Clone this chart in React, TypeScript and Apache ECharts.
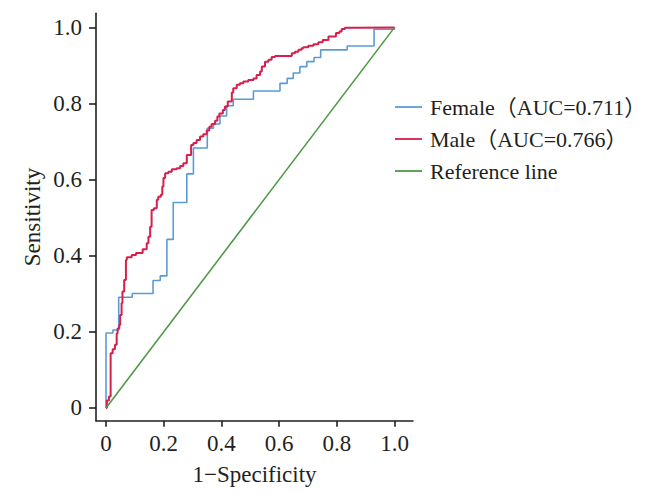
import React, { useEffect, useRef } from "react";
import * as echarts from "echarts";

const xTicks = [0, 0.2, 0.4, 0.6, 0.8, 1.0];
const yTicks = [0, 0.2, 0.4, 0.6, 0.8, 1.0];

const seriesNames = ["Female（AUC=0.711）", "Male（AUC=0.766）", "Reference line"];

// Female ROC corner points (1-specificity, sensitivity)
const femaleFpr = [
  0, 0, 0.024, 0.044, 0.091, 0.163, 0.188, 0.211, 0.233, 0.28, 0.303, 0.351,
  0.372, 0.395, 0.418, 0.441, 0.511, 0.603, 0.628, 0.649, 0.672, 0.696, 0.721,
  0.744, 0.836, 0.929, 1.0,
];
const femaleTpr = [
  0, 0.197, 0.205, 0.291, 0.301, 0.335, 0.347, 0.443, 0.54, 0.615, 0.683, 0.735,
  0.746, 0.767, 0.794, 0.811, 0.833, 0.853, 0.866, 0.88, 0.897, 0.91, 0.921,
  0.941, 0.951, 0.995, 1.0,
];

// Male ROC corner points
const maleFpr = [
  0, 0.003, 0.01, 0.016, 0.023, 0.031, 0.037, 0.04, 0.046, 0.049, 0.054, 0.057,
  0.063, 0.069, 0.072, 0.089, 0.104, 0.127, 0.141, 0.147, 0.153, 0.158, 0.166,
  0.176, 0.181, 0.19, 0.195, 0.199, 0.205, 0.216, 0.228, 0.245, 0.257, 0.268,
  0.28, 0.295, 0.303, 0.314, 0.326, 0.337, 0.349, 0.358, 0.366, 0.378, 0.386,
  0.393, 0.405, 0.412, 0.422, 0.436, 0.441, 0.453, 0.464, 0.476, 0.493, 0.511,
  0.522, 0.534, 0.54, 0.551, 0.563, 0.574, 0.586, 0.644, 0.655, 0.667, 0.678,
  0.684, 0.701, 0.719, 0.736, 0.751, 0.771, 0.797, 0.809, 0.817, 0.828, 0.875,
  1.0,
];
const maleTpr = [
  0, 0.02, 0.03, 0.144, 0.154, 0.166, 0.196, 0.209, 0.218, 0.244, 0.276, 0.306,
  0.336, 0.389, 0.396, 0.402, 0.407, 0.417, 0.433, 0.45, 0.476, 0.52, 0.525,
  0.547, 0.555, 0.56, 0.582, 0.604, 0.617, 0.621, 0.627, 0.63, 0.636, 0.643,
  0.665, 0.691, 0.696, 0.704, 0.713, 0.719, 0.729, 0.739, 0.746, 0.755, 0.766,
  0.774, 0.783, 0.792, 0.805, 0.829, 0.84, 0.849, 0.853, 0.858, 0.862, 0.866,
  0.875, 0.884, 0.897, 0.91, 0.915, 0.922, 0.925, 0.932, 0.936, 0.941, 0.945,
  0.948, 0.952, 0.956, 0.961, 0.967, 0.976, 0.985, 0.989, 0.996, 0.999, 1.0,
  1.0,
];

const refX = [0, 1];
const refY = [0, 1];

const colors = ["#5b9bd5", "#d81e4a", "#4f9a45"];

function toStep(xs: number[], ys: number[]): number[][] {
  const pts: number[][] = [[xs[0], ys[0]]];
  for (let i = 1; i < xs.length; i++) {
    pts.push([xs[i], ys[i - 1]]);
    pts.push([xs[i], ys[i]]);
  }
  return pts;
}

const FONT = "'Liberation Serif', 'Noto Sans CJK SC', serif";
const TEXT = "#231f20";

export default function App() {
  const ref = useRef<HTMLDivElement>(null);
  useEffect(() => {
    if (!ref.current) return;
    const chart = echarts.init(ref.current, undefined, { renderer: "svg" });
    const fmt = (v: number) => (v === 0 ? "0" : v.toFixed(1));
    const axisCommon = {
      type: "value" as const,
      splitLine: { show: false },
      axisLine: { show: true, onZero: false, lineStyle: { color: TEXT, width: 1.6 } },
      nameLocation: "middle" as const,
      nameTextStyle: { fontFamily: FONT, fontSize: 23, color: TEXT },
    };
    chart.setOption({
      animation: false,
      grid: {
        left: 96,
        top: 13.3,
        width: 317,
        height: 407.4,
        containLabel: false,
        outerBoundsMode: "none",
      },
      xAxis: {
        ...axisCommon,
        min: -0.0347,
        max: 1.064,
        name: "1−Specificity",
        nameGap: 42,
        axisTick: {
          show: true,
          customValues: xTicks,
          length: 6,
          lineStyle: { color: TEXT, width: 1.6 },
        },
        axisLabel: {
          customValues: xTicks,
          formatter: fmt,
          margin: 11,
          fontFamily: FONT,
          fontSize: 23,
          color: TEXT,
        },
      },
      yAxis: {
        ...axisCommon,
        min: -0.0334,
        max: 1.037,
        name: "Sensitivity",
        nameGap: 52,
        axisTick: {
          show: true,
          customValues: yTicks,
          length: 7,
          lineStyle: { color: TEXT, width: 1.6 },
        },
        axisLabel: {
          customValues: yTicks,
          formatter: fmt,
          margin: 14,
          fontFamily: FONT,
          fontSize: 23,
          color: TEXT,
        },
      },
      legend: {
        orient: "vertical",
        left: 395,
        top: 96,
        padding: 0,
        icon: "rect",
        itemWidth: 27,
        itemHeight: 1.8,
        itemGap: 10,
        data: seriesNames,
        textStyle: { fontFamily: FONT, fontSize: 22, color: TEXT, padding: [0, 0, 0, 3] },
      },
      series: [
        {
          name: seriesNames[0],
          type: "line",
          data: toStep(femaleFpr, femaleTpr),
          symbol: "none",
          showSymbol: false,
          lineStyle: { color: colors[0], width: 1.6 },
          itemStyle: { color: colors[0] },
          silent: true,
        },
        {
          name: seriesNames[1],
          type: "line",
          data: toStep(maleFpr, maleTpr),
          symbol: "none",
          showSymbol: false,
          lineStyle: { color: colors[1], width: 2 },
          itemStyle: { color: colors[1] },
          silent: true,
        },
        {
          name: seriesNames[2],
          type: "line",
          data: refX.map((x, i) => [x, refY[i]]),
          symbol: "none",
          showSymbol: false,
          lineStyle: { color: colors[2], width: 1.6 },
          itemStyle: { color: colors[2] },
          silent: true,
        },
      ],
    });
    return () => chart.dispose();
  }, []);
  return (
    <div
      ref={ref}
      style={{ position: "absolute", left: 0, top: 0, width: 649, height: 493, background: "#fff" }}
    />
  );
}
